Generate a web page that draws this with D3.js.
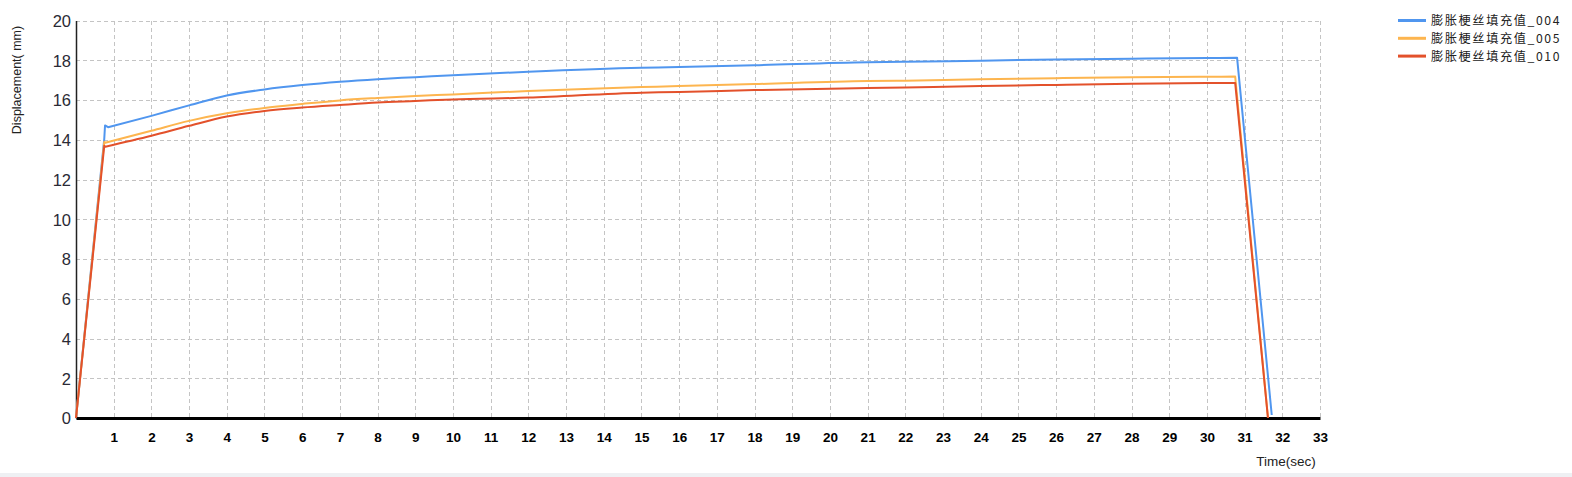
<!DOCTYPE html>
<html><head><meta charset="utf-8">
<script src="https://cdn.jsdelivr.net/npm/d3@7"></script>
<style>
html,body{margin:0;padding:0;background:#fff;}
svg{display:block;}
</style></head>
<body>
<svg id="c" width="1572" height="477"></svg>
<script>
const seriesNames = ["膨胀梗丝填充值_004", "膨胀梗丝填充值_005", "膨胀梗丝填充值_010"];
const seriesColors = ["#5096ef", "#fdb54f", "#e3512b"];

const time004 = [0,0.75,0.77,0.85,2,3,4,5,6,7,8,9,10,12,15,16,18,21,22,24,26,28,30,30.8,31.72];
const disp004 = [0,14.05,14.72,14.63,15.2,15.73,16.23,16.53,16.75,16.92,17.05,17.15,17.25,17.42,17.62,17.66,17.75,17.9,17.92,17.98,18.04,18.08,18.11,18.13,0.15];

const time005 = [0,0.75,0.78,2,3,4,5,6,7,8,9,10,12,15,16,18,21,22,24,26,28,30,30.75,31.62];
const disp005 = [0,13.9,13.85,14.45,14.95,15.33,15.6,15.8,15.98,16.1,16.2,16.28,16.45,16.65,16.7,16.8,16.95,16.97,17.05,17.1,17.15,17.17,17.18,0];

const time010 = [0,0.75,0.78,2,3,4,5,6,7,8,9,10,12,15,16,18,21,22,24,26,28,30,30.75,31.62];
const disp010 = [0,13.7,13.65,14.2,14.7,15.17,15.45,15.62,15.75,15.87,15.95,16.03,16.12,16.37,16.4,16.5,16.6,16.63,16.7,16.76,16.82,16.85,16.86,0];

// index where the smooth plateau starts (after the initial jump)
const plateauStart = [3, 2, 2];

const xTicks = d3.range(1, 34);
const yTicks = d3.range(0, 21, 2);

const series = [
  {name: seriesNames[0], color: seriesColors[0], k: plateauStart[0], pts: time004.map((t,i)=>[t, disp004[i]])},
  {name: seriesNames[1], color: seriesColors[1], k: plateauStart[1], pts: time005.map((t,i)=>[t, disp005[i]])},
  {name: seriesNames[2], color: seriesColors[2], k: plateauStart[2], pts: time010.map((t,i)=>[t, disp010[i]])}
];

const svg = d3.select("#c");
const x = d3.scaleLinear().domain([0, 33]).range([76, 1320]);
const y = d3.scaleLinear().domain([0, 20]).range([418, 20.5]);

// bottom strip
svg.append("rect").attr("x",0).attr("y",473).attr("width",1572).attr("height",4).attr("fill","#eef0f3");

// grid
const grid = svg.append("g").attr("stroke","#c4c4c4").attr("stroke-width",1).attr("stroke-dasharray","4,3").attr("shape-rendering","crispEdges");
grid.selectAll("line.h").data(yTicks.filter(d=>d>0)).join("line")
  .attr("x1", x(0)).attr("x2", x(33)).attr("y1", d=>Math.round(y(d))+0.5).attr("y2", d=>Math.round(y(d))+0.5);
grid.selectAll("line.v").data(xTicks).join("line")
  .attr("x1", d=>Math.round(x(d))+0.5).attr("x2", d=>Math.round(x(d))+0.5).attr("y1", y(20)).attr("y2", y(0));

// y axis
const yAxis = svg.append("g").attr("transform", `translate(${x(0)},0)`)
  .call(d3.axisLeft(y).tickValues(yTicks).tickSize(0).tickPadding(5).tickFormat(d3.format("d")));
yAxis.select(".domain").attr("stroke","#222").attr("stroke-width",1.5);
yAxis.selectAll("text").attr("font-family","'Liberation Sans', Arial, sans-serif").attr("font-size",16.5).attr("fill","#2a2a35").attr("dy","0.35em");

// x axis
const xAxis = svg.append("g").attr("transform", `translate(0,${y(0)})`)
  .call(d3.axisBottom(x).tickValues(xTicks).tickSize(0).tickPadding(14).tickFormat(d3.format("d")));
xAxis.select(".domain").attr("stroke","#000").attr("stroke-width",3);
xAxis.selectAll("text").attr("font-family","'Liberation Sans', Arial, sans-serif").attr("font-size",13.5).attr("font-weight","bold").attr("fill","#000");

// lines: linear rise, smooth plateau, linear drop
const lin = d3.line().x(d=>x(d[0])).y(d=>y(d[1]));
const smooth = d3.line().x(d=>x(d[0])).y(d=>y(d[1])).curve(d3.curveMonotoneX);
function pathFor(s) {
  const n = s.pts.length;
  const rise = lin(s.pts.slice(0, s.k + 1));
  const mid = smooth(s.pts.slice(s.k, n - 1)).replace(/^M/, "L");
  const drop = lin(s.pts.slice(n - 2)).replace(/^M[^L]*/, "");
  return rise + mid + drop;
}
svg.append("g").selectAll("path").data(series).join("path")
  .attr("d", pathFor).attr("fill","none").attr("stroke", d=>d.color).attr("stroke-width",2).attr("stroke-linejoin","round");

// axis titles
svg.append("text").attr("transform","translate(21,80) rotate(-90)").attr("text-anchor","middle")
  .attr("font-family","'Liberation Sans', Arial, sans-serif").attr("font-size",12.5).attr("fill","#222").text("Displacement( mm)");
svg.append("text").attr("x",1286).attr("y",466).attr("text-anchor","middle")
  .attr("font-family","'Liberation Sans', Arial, sans-serif").attr("font-size",13.5).attr("fill","#222").text("Time(sec)");

// legend
const leg = svg.append("g").selectAll("g").data(series).join("g")
  .attr("transform",(d,i)=>`translate(1398,${20.5 + i*17.8})`);
leg.append("line").attr("x1",0).attr("x2",28).attr("y1",0).attr("y2",0).attr("stroke",d=>d.color).attr("stroke-width",3);
leg.append("text").attr("x",33).attr("y",0).attr("dy","0.36em")
  .attr("font-family","'Noto Sans CJK SC', sans-serif").attr("font-size",12.2).attr("letter-spacing","1.6px").attr("fill","#222").text(d=>d.name);
</script>
</body></html>
